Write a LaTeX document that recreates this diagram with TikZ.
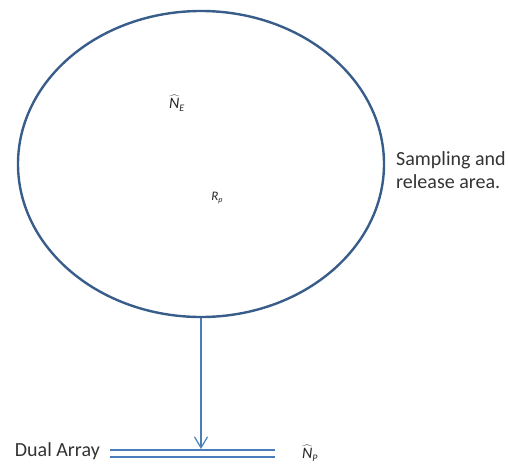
\documentclass[tikz,border=0pt]{standalone}
\usepackage{fontspec}
\setmainfont{Carlito}
\usetikzlibrary{arrows.meta,positioning,shapes.geometric}
\definecolor{rimblue}{HTML}{385D8A}
\definecolor{lineblue}{HTML}{4A7EBB}

\begin{document}
\begin{tikzpicture}[x=1pt,y=-1pt,
    txt/.style={inner sep=0pt,font=\fontsize{20}{23}\selectfont,text=black!80},
    sym/.style={inner sep=0pt,font=\fontsize{16}{18}\selectfont\itshape,text=black!85}]
  \useasboundingbox (0,0) rectangle (508,466);
  % sampling and release area
  \node[ellipse,draw=rimblue,line width=2.4pt,minimum width=366pt,minimum height=306pt,inner sep=0pt] (area) at (201,164) {};
  \node[sym] (ne) at (177,103) {$\widehat{\hbox{\itshape N}}_{\hbox{\fontsize{10}{12}\selectfont\itshape E}}$};
  \node[sym,font=\fontsize{13}{15}\selectfont\itshape] (rp) at (217,198) {R\raisebox{-2pt}{\fontsize{8}{9}\selectfont p}};
  \node[txt,align=left,anchor=west] (lbl) at (396,170) {Sampling and\\release area.};
  % dual array
  \coordinate (a1) at (110,450);
  \coordinate (a2) at (275,450);
  \coordinate (b1) at (110,457);
  \coordinate (b2) at (275,457);
  \coordinate (hit) at (201,449);
  \draw[lineblue,line width=1.2pt] (a1) -- (a2);
  \draw[lineblue,line width=1.2pt] (b1) -- (b2);
  \node[txt,anchor=east] (dual) at (100,451) {Dual Array};
  \node[sym] (np) at (310,453) {$\widehat{\hbox{\itshape N}}_{\hbox{\fontsize{10}{12}\selectfont\itshape P}}$};
  \draw[lineblue,line width=1.2pt,-{Straight Barb[length=11pt,width=13pt]}] (area.south) -- (hit);
\end{tikzpicture}
\end{document}
